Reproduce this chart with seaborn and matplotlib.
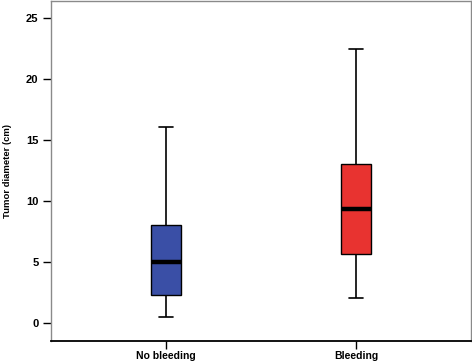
import numpy as np
import pandas as pd
import matplotlib
matplotlib.use("Agg")
import matplotlib.pyplot as plt
import seaborn as sns

# five-number summaries (min, q1, median, q3, max)
groups = ["No bleeding", "Bleeding"]
no_bleeding = [0.5, 2.3, 5.0, 8.0, 16.0]
bleeding = [2.0, 5.6, 9.3, 13.0, 22.4]
box_colors = ["#3a4fa6", "#e83330"]
yticks = [0, 5, 10, 15, 20, 25]

df = pd.DataFrame({
    "group": [groups[0]] * len(no_bleeding) + [groups[1]] * len(bleeding),
    "diameter": no_bleeding + bleeding,
})

sns.set_style("white")
plt.rcParams['font.family'] = ['Liberation Sans', 'DejaVu Sans']
plt.rcParams['font.weight'] = 'bold'
plt.rcParams['text.color'] = 'black'
plt.rcParams['axes.labelcolor'] = 'black'
plt.rcParams['xtick.color'] = 'black'
plt.rcParams['ytick.color'] = 'black'

fig = plt.figure(figsize=(4.72, 3.63), dpi=100)
ax = fig.add_axes([51 / 472, 1 - 341 / 363, 420 / 472, 340.5 / 363])

sns.boxplot(data=df, x="group", y="diameter", hue="group", order=groups,
            hue_order=groups, palette=box_colors, width=0.153, whis=(0, 100),
            linecolor="black", linewidth=1.2, saturation=1, legend=False,
            medianprops=dict(linewidth=3.2, color="black"),
            boxprops=dict(linewidth=1.0), ax=ax)

ax.set_xlim(-0.605, 1.605)
ax.set_ylim(-1.5, 26.4)
ax.set_yticks(yticks)
ax.set_xlabel("")
ax.set_ylabel("Tumor diameter (cm)", fontsize=6.8, fontweight='bold', color='black')
ax.yaxis.set_label_coords(-0.094, 0.5)

ax.tick_params(axis='y', left=True, length=6, width=1, pad=3, labelsize=8,
               color='black', labelcolor='black')
ax.tick_params(axis='x', bottom=True, length=6, width=1, pad=1.5, labelsize=7.5,
               color='black', labelcolor='black')
for lab in ax.get_xticklabels() + ax.get_yticklabels():
    lab.set_fontweight('bold')

for side in ['left', 'top', 'right']:
    ax.spines[side].set_color('#8a8a8a')
    ax.spines[side].set_linewidth(1.0)
ax.spines['bottom'].set_color('black')
ax.spines['bottom'].set_linewidth(1.3)

fig.savefig("out.png", dpi=100)
